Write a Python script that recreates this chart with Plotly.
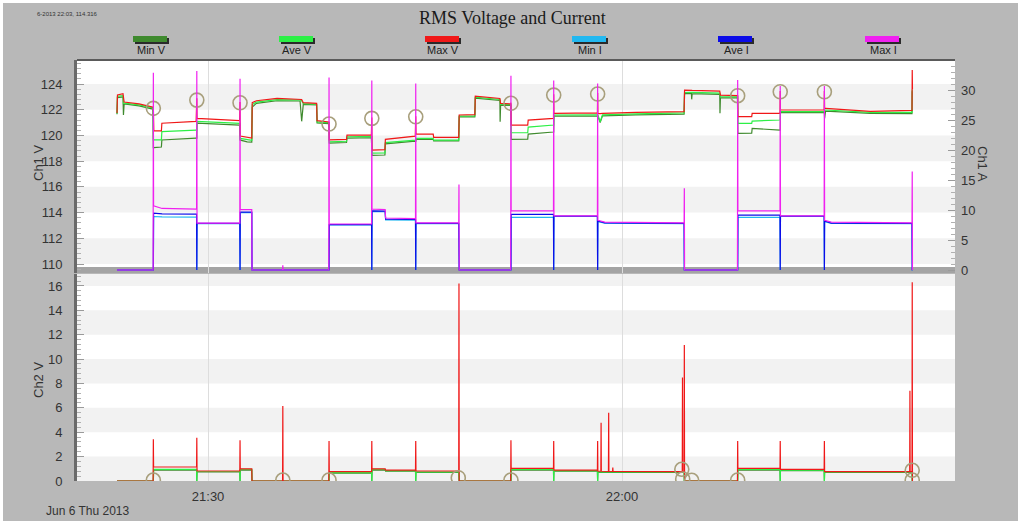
import plotly.graph_objects as go

DATE = "2013-06-06 "

# ---------------- data ----------------
v_time = ["21:23:24","21:23:26","21:23:50","21:23:52","21:23:55","21:25:00","21:26:00",
          "21:26:02","21:26:04","21:26:37","21:26:39","21:29:08",
          "21:29:11","21:29:12","21:32:17",
          "21:32:19","21:32:20","21:32:50","21:33:10",
          "21:33:12","21:33:30","21:35:00","21:36:40","21:36:47","21:36:54","21:37:52","21:37:54","21:38:45",
          "21:38:46","21:38:47","21:40:02","21:40:04","21:41:50",
          "21:41:52","21:41:53","21:42:49","21:42:51","21:45:01",
          "21:45:03","21:45:04","21:46:19","21:46:21","21:48:10",
          "21:48:12","21:49:20","21:49:22","21:51:09","21:51:10","21:51:12","21:51:56",
          "21:51:57","21:51:58","21:53:10","21:53:12","21:55:02",
          "21:55:03","21:55:04","21:58:13",
          "21:58:14","21:58:15","21:58:25","21:58:35","22:01:00","22:04:30",
          "22:04:32","22:05:02","22:05:03","22:05:05","22:07:05","22:07:06","22:07:08","22:08:22",
          "22:08:23","22:08:24","22:09:24","22:09:26","22:11:27",
          "22:11:28","22:11:29","22:14:39",
          "22:14:40","22:14:41","22:14:45","22:18:00","22:21:01",
          "22:21:02","22:21:03"]
v_max = [121.75,123.15,123.25,122.60,122.60,122.45,122.25,
         122.20,120.35,120.35,120.95,121.10,
         122.90,121.33,121.15,
         122.60,119.95,119.85,119.80,
         122.55,122.70,122.88,122.85,122.80,122.55,122.50,121.15,121.08,
         121.05,119.65,119.70,120.03,120.05,
         121.40,118.86,118.90,119.70,119.95,
         121.50,120.11,120.10,119.85,119.85,
         121.59,121.62,123.06,122.88,122.80,122.49,122.45,
         122.55,120.81,120.81,121.20,121.33,
         123.20,121.72,121.76,
         123.30,121.72,121.70,121.72,121.80,121.86,
         123.53,123.50,123.50,123.50,123.45,123.40,123.14,123.10,
         123.15,121.46,121.46,121.72,121.72,
         123.45,121.98,121.98,
         123.45,122.11,122.11,121.88,121.95,
         125.09,123.60]
v_ave = [121.70,123.05,123.10,122.50,122.52,122.38,122.15,
         119.60,119.65,119.65,120.30,120.42,
         120.42,121.10,120.94,
         120.94,119.77,119.65,119.62,
         122.40,122.60,122.78,122.76,122.70,122.48,122.43,121.05,121.00,
         121.00,119.50,119.55,119.90,119.92,
         119.92,118.62,118.65,119.45,119.64,
         119.64,119.77,119.77,119.64,119.64,
         121.50,121.52,122.98,122.80,122.70,122.42,122.40,
         122.40,120.21,120.21,120.65,120.81,
         120.81,121.59,121.62,
         121.62,121.60,121.07,121.60,121.68,121.75,
         123.34,123.35,123.35,123.35,123.30,123.25,123.01,123.00,
         123.00,120.94,120.94,121.12,121.20,
         121.20,121.85,121.85,
         121.85,121.98,121.98,121.80,121.80,
         123.53,123.53]
v_min = [121.65,122.95,123.00,121.60,122.45,122.30,122.05,
         119.00,119.05,119.10,119.65,119.80,
         119.80,120.95,120.80,
         119.60,119.64,119.50,119.48,
         122.20,122.50,122.70,122.68,121.10,122.42,122.38,120.98,120.92,
         119.40,119.40,119.45,119.80,119.82,
         119.00,118.45,118.48,119.35,119.55,
         119.50,119.70,119.70,119.58,119.58,
         121.45,121.45,122.90,122.72,121.07,122.35,122.33,
         119.70,119.70,119.72,120.11,120.27,
         120.27,121.50,121.52,
         121.52,121.50,121.00,121.52,121.60,121.66,
         123.25,123.25,122.81,123.25,123.20,121.72,122.95,122.93,
         120.16,120.16,120.18,120.55,120.42,
         120.42,121.78,121.78,
         121.78,121.33,121.90,121.72,121.70,
         123.40,123.40]

i_time = ["21:23:24","21:26:01",
          "21:26:02","21:26:03","21:26:40","21:29:10",
          "21:29:11","21:29:12","21:32:18",
          "21:32:19","21:32:20","21:33:10","21:33:11",
          "21:35:24","21:35:25","21:35:26","21:38:45",
          "21:38:46","21:38:47","21:41:51",
          "21:41:52","21:41:53","21:42:50","21:42:52","21:45:02",
          "21:45:03","21:45:04","21:48:10",
          "21:48:11","21:48:12","21:51:56",
          "21:51:57","21:51:58","21:55:02",
          "21:55:03","21:55:04","21:58:13",
          "21:58:14","21:58:15","21:58:45","22:04:30",
          "22:04:31","22:04:32","22:08:22",
          "22:08:23","22:08:24","22:11:27",
          "22:11:28","22:11:29","22:14:39",
          "22:14:40","22:14:41","22:15:10","22:21:01",
          "22:21:02","22:21:03"]
i_max = [0, 0,
         33.0, 10.75, 10.3, 10.2,
         33.3, 7.85, 7.85,
         32.0, 10.1, 10.1, 0,
         0, 0.8, 0, 0,
         32.2, 7.7, 7.7,
         31.7, 10.2, 10.1, 8.7, 8.6,
         31.2, 7.9, 7.9,
         14.3, 0, 0,
         32.5, 9.9, 9.9,
         31.7, 9.05, 9.05,
         31.2, 8.3, 8.0, 7.9,
         13.7, 0, 0,
         31.8, 9.9, 9.9,
         30.8, 9.05, 9.05,
         30.8, 8.3, 8.0, 7.9,
         16.5, 0]
i_ave = [0, 0,
         0, 9.5, 9.4, 9.35,
         0, 7.8, 7.8,
         0, 9.7, 9.7, 0,
         0, 0, 0, 0,
         0, 7.6, 7.6,
         0, 9.9, 9.85, 8.5, 8.45,
         0, 7.8, 7.8,
         0, 0, 0,
         0, 9.3, 9.3,
         0, 9.0, 9.0,
         0, 8.2, 7.9, 7.8,
         0, 0, 0,
         0, 9.2, 9.2,
         0, 9.0, 9.0,
         0, 8.2, 7.85, 7.8,
         0, 0]
i_min = [0, 0,
         0, 8.95, 8.9, 8.85,
         0, 7.75, 7.75,
         0, 9.6, 9.6, 0,
         0, 0, 0, 0,
         0, 7.55, 7.55,
         0, 9.8, 9.75, 8.4, 8.35,
         0, 7.75, 7.75,
         0, 0, 0,
         0, 8.8, 8.85,
         0, 8.95, 8.95,
         0, 8.1, 7.85, 7.75,
         0, 0, 0,
         0, 8.8, 8.8,
         0, 8.95, 8.95,
         0, 8.1, 7.8, 7.75,
         0, 0]

c_time = ["21:23:24","21:26:01",
          "21:26:02","21:26:03","21:29:10",
          "21:29:11","21:29:12","21:32:18",
          "21:32:19","21:32:20","21:33:10","21:33:11",
          "21:35:24","21:35:25","21:35:26","21:38:45",
          "21:38:46","21:38:47","21:41:51",
          "21:41:52","21:41:53","21:42:50","21:42:52","21:45:02",
          "21:45:03","21:45:04","21:48:10",
          "21:48:11","21:48:12","21:51:56",
          "21:51:57","21:51:58","21:55:02",
          "21:55:03","21:55:04","21:58:13",
          "21:58:14","21:58:15","21:58:28","21:58:29","21:58:30","21:59:01","21:59:02","21:59:03","21:59:19","21:59:20","21:59:21","22:04:22",
          "22:04:23","22:04:24","22:04:30",
          "22:04:31","22:04:32","22:08:22",
          "22:08:23","22:08:24","22:11:27",
          "22:11:28","22:11:29","22:14:39",
          "22:14:40","22:14:41","22:20:51",
          "22:20:52","22:20:53","22:21:01",
          "22:21:02","22:21:03"]
c_max = [0, 0,
         3.42, 1.15, 1.15,
         3.55, 0.82, 0.82,
         3.34, 1.0, 1.0, 0,
         0, 6.15, 0, 0,
         3.28, 0.77, 0.77,
         3.28, 1.0, 1.0, 0.9, 0.9,
         3.28, 0.82, 0.82,
         16.2, 0, 0,
         3.34, 1.04, 1.04,
         3.28, 0.9, 0.9,
         3.28, 0.8, 0.8, 4.78, 0.8, 0.78, 5.6, 0.78, 0.78, 1.1, 0.78, 0.77,
         8.5, 0.77, 0.77,
         11.15, 0, 0,
         3.28, 1.04, 1.04,
         3.28, 0.96, 0.96,
         3.28, 0.77, 0.77,
         7.4, 0.77, 0.77,
         16.3, 0]
c_ave = [0, 0,
         0, 0.96, 0.96,
         0, 0.78, 0.78,
         0, 0.95, 0.95, 0,
         0, 0, 0, 0,
         0, 0.68, 0.68,
         0, 0.95, 0.95, 0.85, 0.85,
         0, 0.74, 0.74,
         0, 0, 0,
         0, 0.96, 0.96,
         0, 0.85, 0.85,
         0, 0.75, 0.75, 0.75, 0.75, 0.74, 0.74, 0.74, 0.74, 0.74, 0.74, 0.74,
         0.74, 0.74, 0.74,
         0, 0, 0,
         0, 0.96, 0.96,
         0, 0.9, 0.9,
         0, 0.74, 0.74,
         0.74, 0.74, 0.74,
         0, 0]
c_min = [0, 0,
         0, 0.9, 0.9,
         0, 0.74, 0.74,
         0, 0.9, 0.9, 0,
         0, 0, 0, 0,
         0, 0.64, 0.64,
         0, 0.9, 0.9, 0.8, 0.8,
         0, 0.7, 0.7,
         0, 0, 0,
         0, 0.9, 0.9,
         0, 0.8, 0.8,
         0, 0.71, 0.71, 0.71, 0.71, 0.7, 0.7, 0.7, 0.7, 0.7, 0.7, 0.7,
         0.7, 0.7, 0.7,
         0, 0, 0,
         0, 0.9, 0.9,
         0, 0.85, 0.85,
         0, 0.7, 0.7,
         0.7, 0.7, 0.7,
         0, 0]

event_v_time = ["21:26:02","21:29:11","21:32:19","21:38:46","21:41:52","21:45:03",
                "21:51:57","21:55:03","21:58:14","22:08:23","22:11:28","22:14:40"]
event_v_val = [122.11,122.75,122.54,120.89,121.33,121.45,
               122.50,123.14,123.22,123.09,123.40,123.40]
event_c_time = ["21:26:02","21:35:25","21:38:46","21:48:08","21:51:57","22:04:20",
                "22:04:24","22:05:03","22:08:23","22:21:02","22:21:02"]
event_c_val = [0.08,0.08,0.08,0.27,0.08,0.96,0.16,0.06,0.08,0.88,0.08]

legend_names = ["Min V", "Ave V", "Max V", "Min I", "Ave I", "Max I"]
legend_colors = ["#3f8a2e", "#2cf046", "#f01818", "#22b8f0", "#0c0ce8", "#f020f0"]

x_tick_vals = ["21:30:00", "22:00:00"]
x_tick_text = ["21:30", "22:00"]
v_ticks = [110, 112, 114, 116, 118, 120, 122, 124]
a_ticks = [0, 5, 10, 15, 20, 25, 30]
c_ticks = [0, 2, 4, 6, 8, 10, 12, 14, 16]

# ---------------- layout helpers ----------------
W, H = 1024, 527
ML, MR, MT, MB = 77, 69, 60, 46
PW, PH = W - ML - MR, H - MT - MB


def px(X):
    return (X - ML) / PW


def py(Y):
    return (H - MB - Y) / PH


def ts(lst):
    return [DATE + t for t in lst]


CIRCLE = "#a89f7c"
LW = 1.2
fig = go.Figure()

# top panel voltages
for vals, col in [(v_min, legend_colors[0]), (v_ave, legend_colors[1]), (v_max, legend_colors[2])]:
    fig.add_trace(go.Scatter(x=ts(v_time), y=vals, mode="lines", line=dict(color=col, width=LW),
                             xaxis="x", yaxis="y", hoverinfo="skip"))
fig.add_trace(go.Scatter(x=ts(event_v_time), y=event_v_val, mode="markers", cliponaxis=True,
                         marker=dict(symbol="circle-open", size=14, color=CIRCLE, line=dict(width=1.6)),
                         xaxis="x", yaxis="y", hoverinfo="skip"))
# top panel currents
for vals, col in [(i_min, legend_colors[3]), (i_ave, legend_colors[4]), (i_max, legend_colors[5])]:
    fig.add_trace(go.Scatter(x=ts(i_time), y=vals, mode="lines", line=dict(color=col, width=LW),
                             xaxis="x", yaxis="y2", hoverinfo="skip"))
# bottom panel
for vals, col in [(c_min, legend_colors[0]), (c_ave, legend_colors[1]), (c_max, legend_colors[2])]:
    fig.add_trace(go.Scatter(x=ts(c_time), y=vals, mode="lines", line=dict(color=col, width=LW),
                             xaxis="x2", yaxis="y3", hoverinfo="skip"))
fig.add_trace(go.Scatter(x=ts(event_c_time), y=event_c_val, mode="markers", cliponaxis=True,
                         marker=dict(symbol="circle-open", size=14, color=CIRCLE, line=dict(width=1.6)),
                         xaxis="x2", yaxis="y3", hoverinfo="skip"))

shapes = []
BAND = "#f2f2f2"
for lo in [110, 114, 118, 122]:
    shapes.append(dict(type="rect", xref="x domain", yref="y", x0=0, x1=1, y0=lo, y1=lo + 2,
                       fillcolor=BAND, line=dict(width=0), layer="below"))
for lo in [0, 4, 8, 12, 16]:
    shapes.append(dict(type="rect", xref="x2 domain", yref="y3", x0=0, x1=1, y0=lo, y1=lo + 2,
                       fillcolor=BAND, line=dict(width=0), layer="below"))
# thick gray separator at the base of the top panel
shapes.append(dict(type="rect", xref="x domain", yref="y domain", x0=0, x1=1, y0=0, y1=0.028,
                   fillcolor="#a4a4a4", line=dict(width=0), layer="below"))
# top border
shapes.append(dict(type="line", xref="x domain", yref="y domain", x0=0, x1=1, y0=1, y1=1,
                   line=dict(color="#5a5a5a", width=2)))
# white outer frame
for (x0, y0, x1, y1) in [(0, 0, 3, H), (W - 6, 0, W, H), (0, 0, W, 3), (0, H - 6, W, H)]:
    shapes.append(dict(type="rect", xref="paper", yref="paper", x0=px(x0), x1=px(x1),
                       y0=py(y1), y1=py(y0), fillcolor="white", line=dict(width=0), layer="above"))

annotations = []
legend_cx = [150, 296, 442, 589, 735, 882]
for name, col, cx in zip(legend_names, legend_colors, legend_cx):
    shapes.append(dict(type="rect", xref="paper", yref="paper", x0=px(cx - 15), x1=px(cx + 19),
                       y0=py(44), y1=py(38), fillcolor="#2a2a2a", line=dict(width=0), layer="above"))
    shapes.append(dict(type="rect", xref="paper", yref="paper", x0=px(cx - 17), x1=px(cx + 17),
                       y0=py(42), y1=py(36), fillcolor=col, line=dict(width=0), layer="above"))
    annotations.append(dict(text=name, xref="paper", yref="paper", x=px(cx + 1), y=py(50),
                            showarrow=False, xanchor="center", yanchor="middle",
                            font=dict(family="Liberation Sans, Arial", size=11, color="#222")))

annotations += [
    dict(text="RMS Voltage and Current", xref="paper", yref="paper", x=px(512), y=py(18),
         showarrow=False, xanchor="center", yanchor="middle",
         font=dict(family="Liberation Serif, Times New Roman", size=18, color="#1a1a1a")),
    dict(text="6-2013 22:03, 114.316", xref="paper", yref="paper", x=px(35), y=py(14),
         showarrow=False, xanchor="left", yanchor="middle",
         font=dict(family="Liberation Sans, Arial", size=6, color="#333")),
    dict(text="Ch1 V", xref="paper", yref="paper", x=px(38), y=py(163), textangle=-90,
         showarrow=False, xanchor="center", yanchor="middle",
         font=dict(family="Liberation Sans, Arial", size=13, color="#333")),
    dict(text="Ch2 V", xref="paper", yref="paper", x=px(38), y=py(380), textangle=-90,
         showarrow=False, xanchor="center", yanchor="middle",
         font=dict(family="Liberation Sans, Arial", size=13, color="#333")),
    dict(text="Ch1 A", xref="paper", yref="paper", x=px(983), y=py(164), textangle=90,
         showarrow=False, xanchor="center", yanchor="middle",
         font=dict(family="Liberation Sans, Arial", size=13, color="#333")),
    dict(text="Jun 6 Thu 2013", xref="paper", yref="paper", x=px(88), y=py(511),
         showarrow=False, xanchor="center", yanchor="middle",
         font=dict(family="Liberation Sans, Arial", size=12, color="#333")),
]

TICKFONT = dict(family="Liberation Sans, Arial", size=13, color="#333")
x_range = [DATE + "21:20:30", DATE + "22:24:08"]
y_top_dom = [py(273), 1]
y_bot_dom = [0, py(274)]

fig.update_layout(
    width=W, height=H, autosize=False,
    margin=dict(l=ML, r=MR, t=MT, b=MB, pad=0),
    paper_bgcolor="#b8b8b8", plot_bgcolor="white",
    showlegend=False,
    shapes=shapes, annotations=annotations,
    xaxis=dict(domain=[0, 1], anchor="y", type="date", range=x_range,
               tickmode="array", tickvals=ts(x_tick_vals), showticklabels=False, ticks="",
               showgrid=True, gridcolor="#dddddd", gridwidth=1, showline=False, zeroline=False),
    xaxis2=dict(domain=[0, 1], anchor="y3", type="date", range=x_range,
                tickmode="array", tickvals=ts(x_tick_vals), ticktext=x_tick_text, ticks="",
                tickfont=TICKFONT, ticklabelstandoff=6,
                showgrid=True, gridcolor="#dddddd", gridwidth=1, showline=False, zeroline=False),
    yaxis=dict(domain=y_top_dom, anchor="x", range=[109.30, 125.87],
               tickmode="array", tickvals=v_ticks, ticks="inside", ticklen=7, tickcolor="#9a9a9a",
               tickfont=TICKFONT, ticklabelstandoff=9,
               minor=dict(tickmode="linear", tick0=110, dtick=0.4, ticks="inside", ticklen=4,
                          tickcolor="#b0b0b0", showgrid=False),
               showgrid=False, zeroline=False, showline=True, linecolor="#6a6a6a", linewidth=3),
    yaxis2=dict(overlaying="y", side="right", anchor="x", range=[-0.5, 35.14],
                tickmode="array", tickvals=a_ticks, ticks="inside", ticklen=7, tickcolor="#9a9a9a",
                tickfont=TICKFONT, ticklabelstandoff=5,
                minor=dict(tickmode="linear", tick0=0, dtick=1, ticks="inside", ticklen=4,
                           tickcolor="#b0b0b0", showgrid=False),
                showgrid=False, zeroline=False, showline=False),
    yaxis3=dict(domain=y_bot_dom, anchor="x2", range=[0.0, 16.98],
                tickmode="array", tickvals=c_ticks, ticks="inside", ticklen=7, tickcolor="#9a9a9a",
                tickfont=TICKFONT, ticklabelstandoff=9,
                minor=dict(tickmode="linear", tick0=0, dtick=0.4, ticks="inside", ticklen=4,
                           tickcolor="#b0b0b0", showgrid=False),
                showgrid=False, zeroline=False, showline=True, linecolor="#6a6a6a", linewidth=3),
)

fig.write_html("out.html")
